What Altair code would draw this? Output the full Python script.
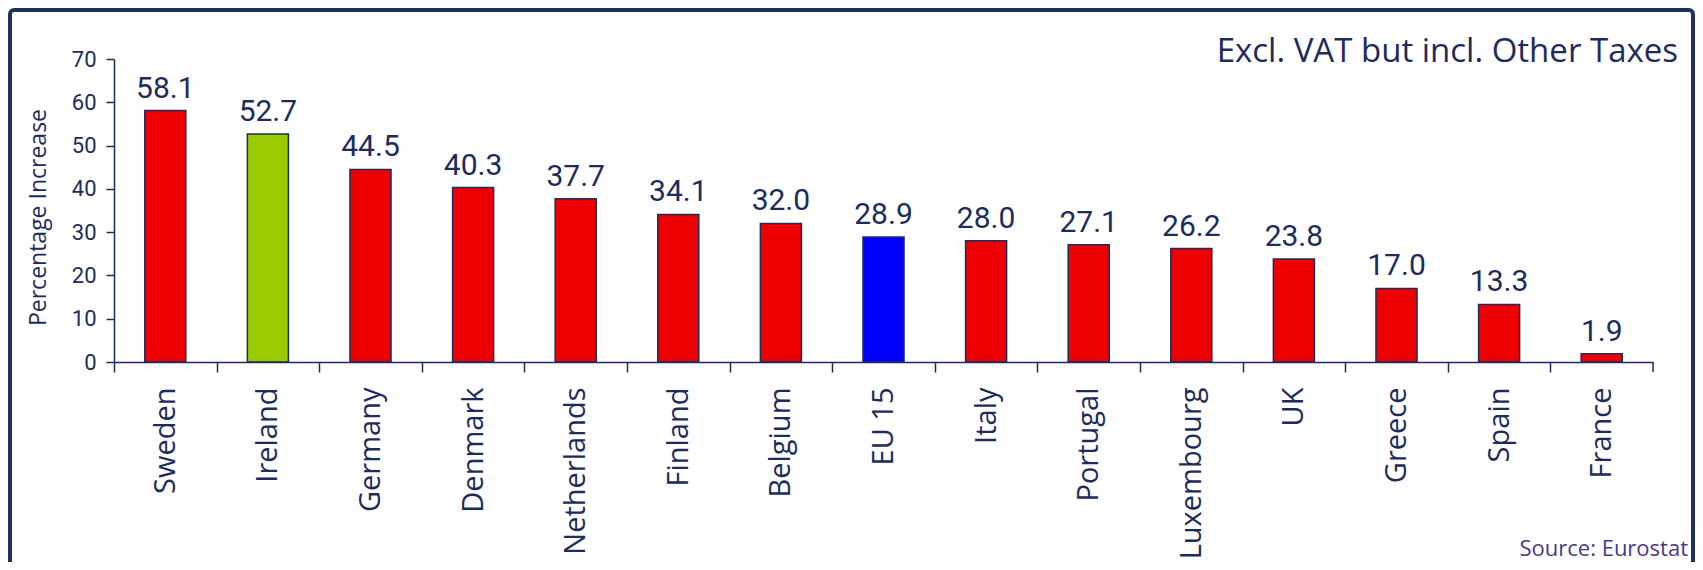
import altair as alt
import pandas as pd

countries = ["Sweden", "Ireland", "Germany", "Denmark", "Netherlands", "Finland", "Belgium",
             "EU 15", "Italy", "Portugal", "Luxembourg", "UK", "Greece", "Spain", "France"]
values = [58.1, 52.7, 44.5, 40.3, 37.7, 34.1, 32.0, 28.9, 28.0, 27.1, 26.2, 23.8, 17.0, 13.3, 1.9]
bar_colors = ["#ee0000", "#99cc00", "#ee0000", "#ee0000", "#ee0000", "#ee0000", "#ee0000",
              "#0000ff", "#ee0000", "#ee0000", "#ee0000", "#ee0000", "#ee0000", "#ee0000", "#ee0000"]
y_ticks = [0, 10, 20, 30, 40, 50, 60, 70]

title_text = "Excl. VAT but incl. Other Taxes"
source_text = "Source: Eurostat"
y_title = "Percentage Increase"

NAVY = "#1d2c5c"
FRAME = "#1f3161"
PURPLE = "#4a3986"

W, H = 1539, 303
step = W / len(countries)
half_gap = 0.3 * step
band_w = 0.4 * step

df = pd.DataFrame({"country": countries, "value": values, "color": bar_colors})

x_enc = alt.X(
    "country:N", sort=countries,
    scale=alt.Scale(paddingInner=0.6, paddingOuter=0.3),
    axis=alt.Axis(
        title=None, labelAngle=-90, labelAlign="right", labelBaseline="middle",
        labelFont="Open Sans", labelFontSize=29, labelColor=NAVY, labelPadding=15,
        bandPosition=0, tickOffset=-half_gap, labelOffset=half_gap,
        tickSize=10, tickColor=NAVY, tickWidth=1.5,
        domainColor=NAVY, domainWidth=1.5, grid=False, zindex=2,
    ),
)
y_enc = alt.Y(
    "value:Q",
    scale=alt.Scale(domain=[0, 70]),
    axis=alt.Axis(
        values=y_ticks, title=y_title, grid=False,
        labelFont="Roboto", labelFontSize=22, labelColor=NAVY, labelPadding=10,
        tickSize=8, tickColor=NAVY, tickWidth=1.5, domainColor=NAVY, domainWidth=1.5,
        titleFont="Open Sans", titleFontSize=23, titleFontWeight="normal", titleColor=NAVY,
        titleAngle=-90, titleAlign="center", titleBaseline="middle",
        titleX=-76, titleY=158, zindex=2,
    ),
)

base = alt.Chart(df)

frame = alt.Chart(alt.Data(values=[{"k": 1}])).mark_rect(
    fill="white", stroke=FRAME, strokeWidth=4, cornerRadius=4
).encode(
    x=alt.value(-104), x2=alt.value(1579), y=alt.value(-49), y2=alt.value(520)
)

bars = base.mark_bar(stroke=NAVY, strokeWidth=1.5).encode(
    x=x_enc, y=y_enc, color=alt.Color("color:N", scale=None)
)

labels = base.mark_text(
    baseline="bottom", dy=-7, font="Roboto", fontSize=30, color=NAVY
).encode(
    x=alt.X("country:N", sort=countries),
    y=alt.Y("value:Q"),
    text=alt.Text("value:Q", format=".1f"),
)

last_tick = base.transform_filter(
    alt.datum.country == countries[-1]
).mark_rule(color=NAVY, strokeWidth=1.5, xOffset=half_gap).encode(
    x=alt.X("country:N", sort=countries, bandPosition=1),
    y=alt.value(H), y2=alt.value(H + 10),
)

title_mark = alt.Chart(alt.Data(values=[{"t": title_text}])).mark_text(
    align="right", baseline="alphabetic", font="Open Sans", fontSize=33, color=NAVY
).encode(x=alt.value(1564), y=alt.value(3), text="t:N")

source_mark = alt.Chart(alt.Data(values=[{"t": source_text}])).mark_text(
    align="right", baseline="alphabetic", font="Open Sans", fontSize=22, color=PURPLE
).encode(x=alt.value(1574), y=alt.value(497), text="t:N")

chart = alt.layer(frame, bars, labels, last_tick, title_mark, source_mark).properties(
    width=W, height=H,
    autosize=alt.AutoSizeParams(type="none"),
    padding={"left": 106, "top": 51, "right": 42, "bottom": 200},
    background="white",
).configure_view(stroke=None)

chart.save("out.html", embed_options={"renderer": "svg", "actions": False})
